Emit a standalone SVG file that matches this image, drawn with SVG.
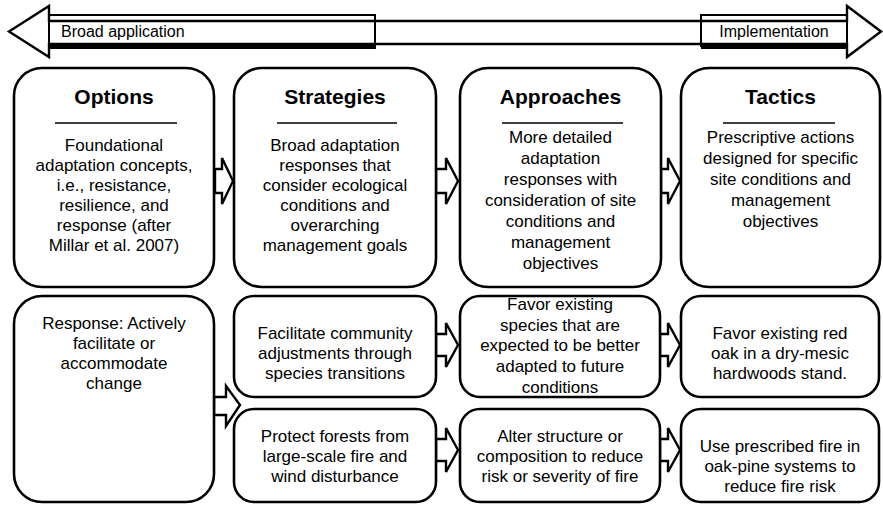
<svg xmlns="http://www.w3.org/2000/svg" width="883" height="507" viewBox="0 0 883 507">
<style>
.box{fill:#fff;stroke:#000;stroke-width:2.6}
.arr{fill:#fff;stroke:#000;stroke-width:2.4;stroke-linejoin:miter}
.t{font-family:"Liberation Sans",Arial,sans-serif;font-size:17px;fill:#000;text-anchor:middle}
.h{font-family:"Liberation Sans",Arial,sans-serif;font-size:21px;font-weight:bold;fill:#000;text-anchor:middle}
.lab{font-family:"Liberation Sans",Arial,sans-serif;font-size:16px;fill:#000}
.rule{stroke:#000;stroke-width:1.5}
</style>
<rect width="883" height="507" fill="#fff"/>
<g id="scale-arrow">
<path class="arr" d="M9,31.5 L49,6 V21 H847 V6 L881,31.5 L847,57 V44 H49 V57 Z"/>
<rect x="49" y="15" width="326" height="31" fill="none" stroke="#000" stroke-width="2"/>
<rect x="49" y="44" width="327" height="5" fill="#000"/>
<rect x="701" y="15" width="146" height="31" fill="none" stroke="#000" stroke-width="2"/>
<rect x="701" y="44" width="146" height="5" fill="#000"/>
<text class="lab" x="61" y="37">Broad application</text>
<text class="lab" x="774" y="37" text-anchor="middle">Implementation</text>
</g>
<g id="connectors">
<path class="arr" d="M215,169 H222 V158 L233,181 L222,204 V193 H215 Z"/>
<path class="arr" d="M436,169 H446 V158 L458,181 L446,204 V193 H436 Z"/>
<path class="arr" d="M661,169 H668 V158 L680,181 L668,204 V193 H661 Z"/>
<path class="arr" d="M214,397 H226 V386 L240,405 L226,426 V415 H214 Z"/>
<path class="arr" d="M436,334 H446 V323 L458,345 L446,367 V356 H436 Z"/>
<path class="arr" d="M660,334 H668 V323 L680,345 L668,367 V356 H660 Z"/>
<path class="arr" d="M436,439 H446 V428 L458,450 L446,472 V461 H436 Z"/>
<path class="arr" d="M660,439 H668 V428 L680,450 L668,472 V461 H660 Z"/>
</g>
<g id="options">
<rect class="box" x="14" y="68" width="200" height="219" rx="28"/>
<text class="h" x="114" y="104">Options</text>
<line class="rule" x1="55" y1="123" x2="177" y2="123"/>
<text class="t" x="114" y="151">Foundational</text>
<text class="t" x="114" y="171">adaptation concepts,</text>
<text class="t" x="114" y="191">i.e., resistance,</text>
<text class="t" x="114" y="211">resilience, and</text>
<text class="t" x="114" y="231">response (after</text>
<text class="t" x="114" y="251">Millar et al. 2007)</text>
</g>
<g id="strategies">
<rect class="box" x="234" y="68" width="202" height="219" rx="28"/>
<text class="h" x="335" y="104">Strategies</text>
<line class="rule" x1="277" y1="123" x2="397" y2="123"/>
<text class="t" x="335" y="151">Broad adaptation</text>
<text class="t" x="335" y="171">responses that</text>
<text class="t" x="335" y="191">consider ecological</text>
<text class="t" x="335" y="211">conditions and</text>
<text class="t" x="335" y="231">overarching</text>
<text class="t" x="335" y="251">management goals</text>
</g>
<g id="approaches">
<rect class="box" x="460" y="68" width="201" height="219" rx="28"/>
<text class="h" x="560.5" y="104">Approaches</text>
<line class="rule" x1="502" y1="123" x2="623" y2="123"/>
<text class="t" x="560.5" y="143">More detailed</text>
<text class="t" x="560.5" y="164">adaptation</text>
<text class="t" x="560.5" y="185">responses with</text>
<text class="t" x="560.5" y="206">consideration of site</text>
<text class="t" x="560.5" y="227">conditions and</text>
<text class="t" x="560.5" y="248">management</text>
<text class="t" x="560.5" y="269">objectives</text>
</g>
<g id="tactics">
<rect class="box" x="681" y="68" width="199" height="219" rx="28"/>
<text class="h" x="780.5" y="104">Tactics</text>
<line class="rule" x1="723" y1="123" x2="835" y2="123"/>
<text class="t" x="780.5" y="143">Prescriptive actions</text>
<text class="t" x="780.5" y="164">designed for specific</text>
<text class="t" x="780.5" y="185">site conditions and</text>
<text class="t" x="780.5" y="206">management</text>
<text class="t" x="780.5" y="227">objectives</text>
</g>
<g id="response">
<rect class="box" x="14" y="296" width="200" height="206" rx="28"/>
<text class="t" x="114" y="329">Response: Actively</text>
<text class="t" x="114" y="349">facilitate or</text>
<text class="t" x="114" y="369">accommodate</text>
<text class="t" x="114" y="389">change</text>
</g>
<g id="facilitate">
<rect class="box" x="234" y="296" width="202" height="101" rx="20"/>
<text class="t" x="335" y="339">Facilitate community</text>
<text class="t" x="335" y="359">adjustments through</text>
<text class="t" x="335" y="379">species transitions</text>
</g>
<g id="protect">
<rect class="box" x="234" y="409" width="202" height="93" rx="20"/>
<text class="t" x="335" y="442">Protect forests from</text>
<text class="t" x="335" y="462">large-scale fire and</text>
<text class="t" x="335" y="482">wind disturbance</text>
</g>
<g id="favor-species">
<rect class="box" x="460" y="296" width="200" height="101" rx="20"/>
<text class="t" x="560" y="310">Favor existing</text>
<text class="t" x="560" y="331">species that are</text>
<text class="t" x="560" y="351">expected to be better</text>
<text class="t" x="560" y="372">adapted to future</text>
<text class="t" x="560" y="393">conditions</text>
</g>
<g id="alter">
<rect class="box" x="460" y="409" width="200" height="93" rx="20"/>
<text class="t" x="560" y="442">Alter structure or</text>
<text class="t" x="560" y="462">composition to reduce</text>
<text class="t" x="560" y="482">risk or severity of fire</text>
</g>
<g id="red-oak">
<rect class="box" x="681" y="296" width="198" height="101" rx="20"/>
<text class="t" x="780" y="339">Favor existing red</text>
<text class="t" x="780" y="359">oak in a dry-mesic</text>
<text class="t" x="780" y="379">hardwoods stand.</text>
</g>
<g id="prescribed-fire">
<rect class="box" x="681" y="409" width="198" height="93" rx="20"/>
<text class="t" x="780" y="452">Use prescribed fire in</text>
<text class="t" x="780" y="472">oak-pine systems to</text>
<text class="t" x="780" y="492">reduce fire risk</text>
</g>
</svg>
